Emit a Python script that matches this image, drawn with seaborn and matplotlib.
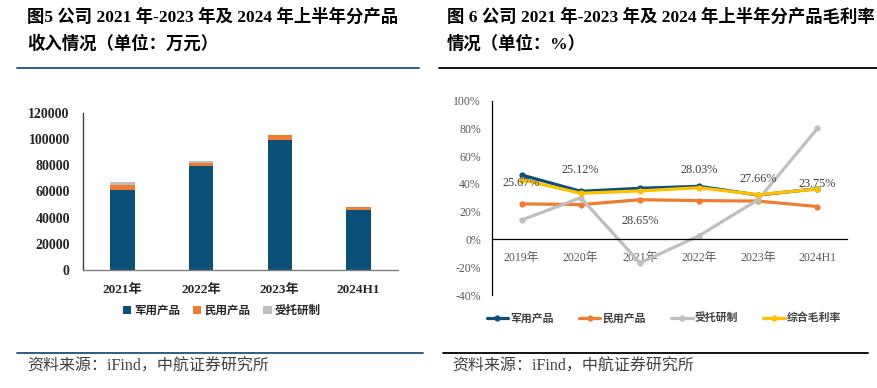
import numpy as np
import pandas as pd
import seaborn as sns
import matplotlib
import matplotlib.pyplot as plt
from matplotlib.lines import Line2D
from matplotlib.patches import Patch
from matplotlib.ticker import PercentFormatter, FixedLocator

matplotlib.use('Agg')

# ---- data: revenue by product (万元) ----
rev_years = ["2021年", "2022年", "2023年", "2024H1"]
rev_military = [60800, 79400, 99100, 46200]
rev_civil = [4300, 2600, 3800, 1800]
rev_commission = [2100, 1500, 400, 200]

# ---- data: gross margin by product (%) ----
gm_years = ["2019年", "2020年", "2021年", "2022年", "2023年", "2024H1"]
gm_military = [46.5, 34.7, 36.9, 38.3, 32.0, 36.6]
gm_civil = [25.67, 25.12, 28.65, 28.03, 27.66, 23.75]
gm_commission = [14.0, 30.1, -16.9, 2.7, 28.7, 80.0]
gm_total = [43.1, 33.3, 35.0, 37.3, 32.3, 36.4]
label_offsets = [15, 25, -15, 22, 16, 16]

C_BLUE = "#0B5079"
C_ORANGE = "#ED7D31"
C_GRAY = "#BFBFBF"
C_YELLOW = "#FFC000"
C_LINE_BLUE = "#1F4E79"

sns.set_style("white")
plt.rcParams['font.family'] = ['Liberation Serif', 'Noto Sans CJK SC', 'DejaVu Sans']
plt.rcParams['axes.unicode_minus'] = False

fig = plt.figure(figsize=(8.78, 3.88), dpi=100)
W, H = 878.0, 388.0


def fx(px):
    return px / W


def fy(py):
    return 1 - py / H


# ---------------- left: stacked bars ----------------
ax1 = fig.add_axes([fx(83), fy(270), fx(398) - fx(83), fy(113) - fy(270)])
df_rev = pd.DataFrame({
    "year": rev_years,
    "military": rev_military,
    "civil": rev_civil,
    "commission": rev_commission,
})
df_rev["mc"] = df_rev.military + df_rev.civil
df_rev["all"] = df_rev.mc + df_rev.commission

for col, color in [("all", C_GRAY), ("mc", C_ORANGE), ("military", C_BLUE)]:
    sns.barplot(data=df_rev, x="year", y=col, color=color, width=0.31,
                saturation=1, ax=ax1, linewidth=0)

ax1.set_xlim(-0.5, 3.5)
ax1.set_ylim(0, 120000)
ax1.set_yticks(np.arange(0, 120001, 20000))
ax1.set_xlabel("")
ax1.set_ylabel("")
for s in ["top", "right"]:
    ax1.spines[s].set_visible(False)
ax1.spines["left"].set_color("#404040")
ax1.spines["bottom"].set_color("#808080")
ax1.spines["left"].set_linewidth(1.0)
ax1.spines["bottom"].set_linewidth(1.0)
ax1.tick_params(axis="y", direction="inout", length=5, width=1, color="#404040",
                labelsize=10, labelcolor="#262626", pad=7)
ax1.tick_params(axis="x", length=0, labelsize=9.5, labelcolor="#262626", pad=10)
for t in ax1.get_yticklabels() + ax1.get_xticklabels():
    t.set_fontweight("bold")

handles1 = [Patch(facecolor=c, edgecolor="none") for c in (C_BLUE, C_ORANGE, C_GRAY)]
fig.legend(handles1, ["军用产品", "民用产品", "受托研制"],
           loc="center", bbox_to_anchor=(fx(222), fy(311)), ncol=3,
           frameon=False, handlelength=0.7, handleheight=0.7,
           handletextpad=0.3, columnspacing=1.1,
           prop={"size": 8.3, "weight": "bold"})

# ---------------- right: margin lines ----------------
ax2 = fig.add_axes([fx(492), fy(295), fx(847) - fx(492), fy(100.7) - fy(295)])
idx = np.arange(len(gm_years))
series = [("军用产品", gm_military, C_BLUE),
          ("民用产品", gm_civil, C_ORANGE),
          ("受托研制", gm_commission, C_GRAY),
          ("综合毛利率", gm_total, C_YELLOW)]
for name, vals, color in series:
    sns.lineplot(x=idx, y=vals, color=color, marker="o", markersize=4.5,
                 markeredgewidth=0, linewidth=2.3, label=name, ax=ax2)

for i, v in enumerate(gm_civil):
    ax2.annotate(f"{v:.2f}%", (idx[i], v), xytext=(0, label_offsets[i]),
                 textcoords="offset points", ha="center", va="center",
                 fontsize=8.8, color="#404040")

ax2.set_xlim(-0.5, 5.5)
ax2.set_ylim(-40, 100)
ax2.set_yticks(np.arange(-40, 101, 20))
ax2.yaxis.set_major_formatter(PercentFormatter(100, decimals=0))
ax2.set_xticks(idx)
ax2.set_xticklabels(gm_years)
ax2.xaxis.set_minor_locator(FixedLocator(np.arange(0.5, 5.6, 1)))
ax2.spines["bottom"].set_position(("data", 0))
for s in ["top", "right"]:
    ax2.spines[s].set_visible(False)
ax2.spines["left"].set_color("#000000")
ax2.spines["bottom"].set_color("#000000")
ax2.spines["left"].set_linewidth(0.9)
ax2.spines["bottom"].set_linewidth(0.9)
ax2.tick_params(axis="y", direction="in", length=3, width=0.9, color="#000000",
                labelsize=8.5, labelcolor="#595959", pad=8)
ax2.tick_params(axis="x", which="major", length=0, labelsize=8.5,
                labelcolor="#595959", pad=9)
ax2.tick_params(axis="x", which="minor", direction="in", length=3, width=0.9,
                color="#000000")
ax2.set_xlabel("")
ax2.set_ylabel("")
ax2.get_legend().remove()

h2, l2 = ax2.get_legend_handles_labels()
fig.legend(h2, l2, loc="center", bbox_to_anchor=(fx(664), fy(318)), ncol=4,
           frameon=False, handlelength=2.0, handletextpad=0.2,
           columnspacing=2.3, prop={"size": 7.8, "weight": "bold"},
           labelcolor="#404040")

# ---------------- titles, rules and source notes ----------------
title_kw = dict(fontsize=12.5, fontweight="bold", color="#000000",
                ha="left", va="center")
fig.text(fx(27), fy(17), "图5 公司 2021 年-2023 年及 2024 年上半年分产品", **title_kw)
fig.text(fx(27), fy(44), "收入情况（单位：万元）", **title_kw)
fig.text(fx(447), fy(17), "图 6 公司 2021 年-2023 年及 2024 年上半年分产品毛利率", **title_kw)
fig.text(fx(447), fy(44), "情况（单位：%）", **title_kw)

fig.add_artist(Line2D([fx(17), fx(419)], [fy(68), fy(68)], color=C_LINE_BLUE, lw=1.3))
fig.add_artist(Line2D([fx(439), fx(878)], [fy(68), fy(68)], color="#000000", lw=1.3))
fig.add_artist(Line2D([fx(17), fx(423)], [fy(353), fy(353)], color=C_LINE_BLUE, lw=1.3))
fig.add_artist(Line2D([fx(443), fx(868)], [fy(353), fy(353)], color="#000000", lw=1.3))

src_kw = dict(fontsize=11.5, color="#404040", ha="left", va="center")
fig.text(fx(27), fy(367), "资料来源：iFind，中航证券研究所", **src_kw)
fig.text(fx(452), fy(367), "资料来源：iFind，中航证券研究所", **src_kw)

fig.savefig("out.png", dpi=100)
